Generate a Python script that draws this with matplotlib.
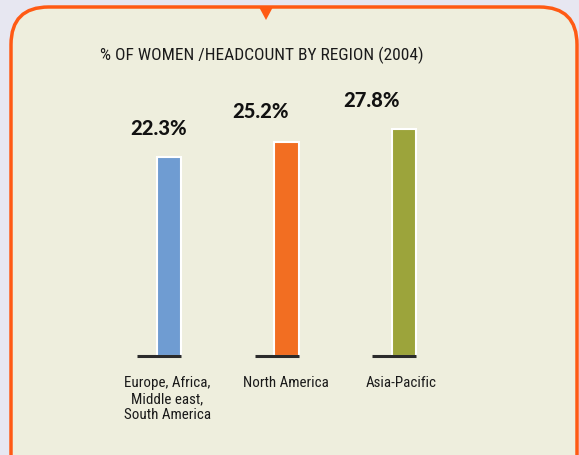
import matplotlib
matplotlib.use("Agg")
import matplotlib.pyplot as plt
from matplotlib.patches import FancyBboxPatch, Polygon
import numpy as np

categories = ["Europe, Africa,\nMiddle east,\nSouth America", "North America", "Asia-Pacific"]
values = [22.3, 25.2, 27.8]
value_labels = ["22.3%", "25.2%", "27.8%"]
colors = ["#6f9cd2", "#f26e22", "#9ca43b"]
title = "% OF WOMEN /HEADCOUNT BY REGION (2004)"

BASE = -16.8
narrow = ["Liberation Sans Narrow", "Roboto Condensed", "DejaVu Sans"]

W, H = 579, 456
fig = plt.figure(figsize=(W/100, H/100), dpi=100)
fig.patch.set_facecolor("#e7e7f1")

# rounded panel
box = FancyBboxPatch((11/W, -40/H), (577-11)/W, (H-8+40)/H,
                     boxstyle="round,pad=0,rounding_size=0.065",
                     transform=fig.transFigure, facecolor="#eeeedd",
                     edgecolor="#ff5a14", linewidth=2.5, mutation_aspect=W/H,
                     zorder=-2)
fig.patches.append(box)
tri = Polygon([(259/W, 1-8/H), (273/W, 1-8/H), (266/W, 1-21/H)], closed=True,
              transform=fig.transFigure, facecolor="#ff5a14", edgecolor="none",
              zorder=-1)
fig.patches.append(tri)

fig.text(262/W, 1-55/H, title, ha="center", va="center", fontsize=12.5,
         family=narrow, color="#1a1a1a")

# axes: x=0 at px 169, 117.5 px per unit; baseline at px 357, 5.09 px per unit
left_px, right_px = 50, 520
top_px, bot_px = 60, 357
ax = fig.add_axes([left_px/W, 1-bot_px/H, (right_px-left_px)/W, (bot_px-top_px)/H])
ax.set_zorder(2)
ax.set_xlim((left_px-169)/117.5, (right_px-169)/117.5)
ax.set_ylim(BASE, BASE + (bot_px-top_px)/5.09)
ax.axis("off")
ax.patch.set_alpha(0)

x = np.arange(len(values))
bw = 0.21
heights = [v - BASE for v in values]
ax.bar(x, heights, bottom=BASE, width=bw, color=colors, edgecolor="white",
       linewidth=1.5, zorder=2)
for xi in x:
    ax.plot([xi - 0.27, xi + bw/2], [BASE, BASE], color="#2b2b2b", lw=2.2,
            solid_capstyle="butt", zorder=3, clip_on=False)

offsets = [-10, -26, -32]
for xi, v, lab, off, dy in zip(x, values, value_labels, offsets, [21, 22.5, 21]):
    ax.annotate(lab, (xi, v), xytext=(off*0.72, dy), textcoords="offset points",
                ha="center", va="center", fontsize=14.5, fontweight=900,
                family=["Lato", "DejaVu Sans"], color="#111111")

for xi, cat, off in zip(x, categories, [-1.5, -1, -3]):
    ax.annotate(cat, (xi, BASE), xytext=(off*0.72, -13.5), textcoords="offset points",
                ha="center", va="top", fontsize=10.8, family=narrow,
                color="#1a1a1a", linespacing=1.2, annotation_clip=False)

fig.savefig("out.png", dpi=100, facecolor=fig.get_facecolor())
